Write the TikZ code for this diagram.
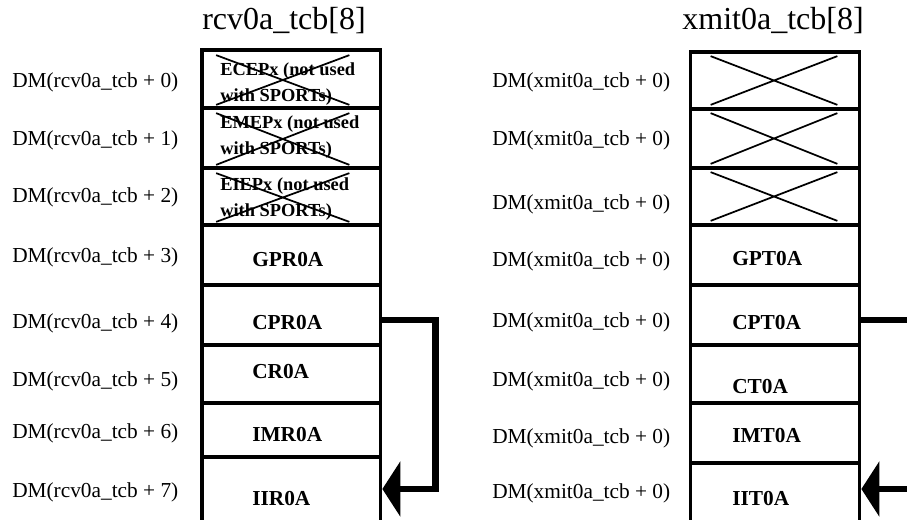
\documentclass[tikz,border=0pt]{standalone}
\usepackage{fontspec}
\setmainfont{Liberation Serif}
\usetikzlibrary{arrows.meta,positioning}

\begin{document}
\begin{tikzpicture}[x=0.75pt,y=-0.75pt,>={Triangle[length=13.5pt,width=41pt]}]
    \tikzset{
        reg/.style={draw,line width=2.8pt,inner sep=0pt},
        addr/.style={anchor=west,inner sep=0pt,font=\fontsize{16}{19}\selectfont},
        regtxt/.style={anchor=west,inner sep=0pt,font=\fontsize{16}{19}\selectfont\bfseries},
        unused/.style={anchor=west,inner sep=0pt,align=left,font=\fontsize{13.8}{20}\selectfont\bfseries},
        cross/.style={line width=1.3pt},
        title/.style={font=\fontsize{24}{28}\selectfont},
        link/.style={line width=4.8pt}
    }
    \useasboundingbox (0,0) rectangle (907,520);

    \node[title] (rtitle) at (284,21) {rcv0a\_tcb[8]};
    \node[title] (xtitle) at (773,21) {xmit0a\_tcb[8]};

    % receive block
    \foreach \nm/\ya/\yb/\yl [count=\i from 0] in {r0/50/108/82, r1/108/168/140, r2/168/225/197, r3/225/285/257,
            r4/285/345/323, r5/345/403/381, r6/403/457/433, r7/457/540/492}{
        \node[reg,minimum width=178.5*0.75pt,minimum height={(\yb-\ya)*0.75pt}] (\nm) at (291.25,{(\ya+\yb)/2}) {};
        \node[addr] (\nm-addr) at (12,\yl) {DM(rcv0a\_tcb + \i)};
    }
    \foreach \nm/\txt/\yl in {r3/GPR0A/260, r4/CPR0A/323, r5/CR0A/372, r6/IMR0A/435, r7/IIR0A/499}
        \node[regtxt] (\nm-txt) at (252,\yl) {\txt};
    \foreach \nm/\txt/\yl in {r0/ECEPx/84, r1/EMEPx/137, r2/EIEPx/199}{
        \node[unused] (\nm-txt) at (220,\yl) {\txt{} (not used\\with SPORTs)};
        \draw[cross] ([shift={(16,7)}]\nm.north west) -- ([shift={(-33,-5)}]\nm.south east)
            ([shift={(16,-5)}]\nm.south west) -- ([shift={(-33,7)}]\nm.north east);
    }

    % transmit block
    \foreach \nm/\ya/\yb/\yl in {x0/52/109/82, x1/109/168/140, x2/168/225/204, x3/225/285/261,
            x4/285/345/322, x5/345/403/381, x6/403/463/438, x7/463/540/493}{
        \node[reg,minimum width=169*0.75pt,minimum height={(\yb-\ya)*0.75pt}] (\nm) at (775,{(\ya+\yb)/2}) {};
        \node[addr] (\nm-addr) at (492,\yl) {DM(xmit0a\_tcb + 0)};
    }
    \foreach \nm/\txt/\yl in {x3/GPT0A/259, x4/CPT0A/323, x5/CT0A/387, x6/IMT0A/436, x7/IIT0A/499}
        \node[regtxt] (\nm-txt) at (732,\yl) {\txt};
    \foreach \nm in {x0,x1,x2}
        \draw[cross] ([shift={(22,6)}]\nm.north west) -- ([shift={(-24,-6)}]\nm.south east)
            ([shift={(22,-6)}]\nm.south west) -- ([shift={(-24,6)}]\nm.north east);

    % links
    \draw[link,->] ([shift={(0,5)}]r4.east) -- ++(53,0) |- ([shift={(0,-9.5)}]r7.east);
    \coordinate (xout) at (912,320);
    \coordinate (xin) at (912,489);
    \draw[link] ([shift={(0,5)}]x4.east) -- (xout);
    \draw[link,->] (xin) -- ([shift={(0,-12.5)}]x7.east);
\end{tikzpicture}
\end{document}
